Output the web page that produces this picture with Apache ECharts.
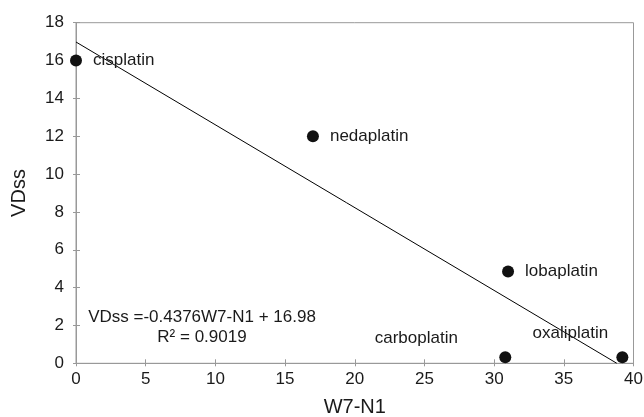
<!DOCTYPE html>
<html>
  <head>
    <meta charset="utf-8" />
    <script src="https://cdn.jsdelivr.net/npm/echarts@6/dist/echarts.min.js"></script>
  </head>
  <body style="margin:0">
    <div id="chart" style="width: 644px; height: 417px;"></div>
    <script>
        // Data
        var drugs = ['cisplatin', 'nedaplatin', 'lobaplatin', 'carboplatin', 'oxaliplatin'];
        var w7n1 = [0, 17, 31, 30.8, 39.2];
        var vdss = [16, 12, 4.85, 0.32, 0.32];

        // Linear trend (from the fitted equation)
        var slope = -0.4376;
        var intercept = 16.98;
        var trendX = [0, -intercept / slope];

        var font = 'Liberation Sans, Arial, sans-serif';
        var textColor = '#1a1a1a';

        // label placement per point
        var labelOffsets = {
            cisplatin: { position: 'right', offset: [6, 0] },
            nedaplatin: { position: 'right', offset: [6, 0] },
            lobaplatin: { position: 'right', offset: [6, 0] },
            carboplatin: { position: 'inside', offset: [-89, -19] },
            oxaliplatin: { position: 'inside', offset: [-52, -24] }
        };

        var chart = echarts.init(document.getElementById('chart'));

        // hidden helper axes draw the inner half of the crossing tick marks
        var innerTicks = { show: true, inside: true, length: 4, lineStyle: { color: '#999' } };

        var option = {
            animation: false,
            grid: {
                left: 76, right: 10.5, top: 22.7, bottom: 53.7,
                outerBoundsMode: 'none', containLabel: false,
                show: true, borderColor: '#999', borderWidth: 1
            },
            xAxis: [{
                type: 'value', min: 0, max: 40, interval: 5,
                name: 'W7-N1', nameLocation: 'middle', nameGap: 34,
                nameTextStyle: { fontFamily: font, fontSize: 20, color: textColor },
                axisLine: { lineStyle: { color: '#999' } },
                axisTick: { show: true, length: 3, lineStyle: { color: '#999' } },
                axisLabel: { fontFamily: font, fontSize: 17, color: textColor, margin: 8 },
                splitLine: { show: false }
            }, {
                type: 'value', min: 0, max: 40, interval: 5, position: 'bottom',
                axisLine: { show: false }, axisLabel: { show: false },
                axisTick: innerTicks, splitLine: { show: false }
            }],
            yAxis: [{
                type: 'value', min: 0, max: 18, interval: 2,
                name: 'VDss', nameLocation: 'middle', nameGap: 47,
                nameTextStyle: { fontFamily: font, fontSize: 20, color: textColor },
                axisLine: { show: true, lineStyle: { color: '#999' } },
                axisTick: { show: true, length: 3, lineStyle: { color: '#999' } },
                axisLabel: { fontFamily: font, fontSize: 17, color: textColor, margin: 12 },
                splitLine: { show: false }
            }, {
                type: 'value', min: 0, max: 18, interval: 2, position: 'left',
                axisLine: { show: false }, axisLabel: { show: false },
                axisTick: innerTicks, splitLine: { show: false }
            }],
            series: [
                {
                    type: 'line',
                    data: trendX.map(function (x) { return [x, slope * x + intercept]; }),
                    symbol: 'none',
                    lineStyle: { color: '#000', width: 1 },
                    z: 1
                },
                {
                    type: 'scatter',
                    symbolSize: 12,
                    itemStyle: { color: '#111', opacity: 1 },
                    data: drugs.map(function (d, i) {
                        return {
                            name: d,
                            value: [w7n1[i], vdss[i]],
                            label: {
                                show: true,
                                formatter: d,
                                position: labelOffsets[d].position,
                                offset: labelOffsets[d].offset,
                                fontFamily: font,
                                fontSize: 17,
                                color: textColor
                            }
                        };
                    }),
                    z: 3
                }
            ],
            graphic: [
                {
                    type: 'text', x: 202, y: 317,
                    style: {
                        text: 'VDss =-0.4376W7-N1 + 16.98',
                        font: '17px ' + font, fill: textColor,
                        textAlign: 'center', textVerticalAlign: 'middle'
                    }
                },
                {
                    type: 'text', x: 202, y: 337,
                    style: {
                        text: 'R² = 0.9019',
                        font: '17px ' + font, fill: textColor,
                        textAlign: 'center', textVerticalAlign: 'middle'
                    }
                }
            ]
        };

        chart.setOption(option);
    </script>
  </body>
</html>
